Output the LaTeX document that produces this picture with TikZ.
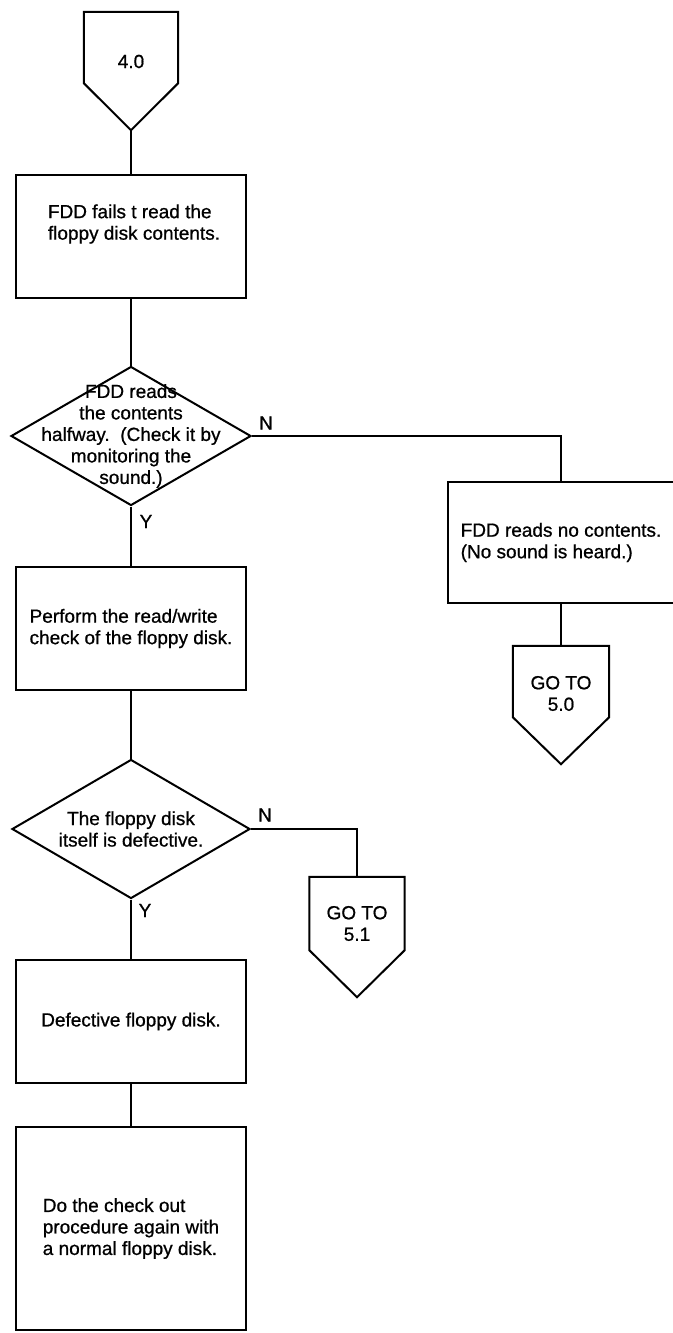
\documentclass[tikz,border=0pt]{standalone}
\usepackage{fontspec}
\setmainfont{Liberation Sans}[FakeBold=0.8]
\usetikzlibrary{calc, shapes.geometric}

\tikzset{
  box/.style={draw, rectangle, line width=2pt, minimum width=230pt, minimum height=123pt, align=left, inner sep=0pt},
  decision/.style={draw, diamond, line width=2pt, minimum width=240pt, minimum height=139pt, inner sep=0pt},
  dtext/.style={align=center, inner sep=0pt},
  offpage/.style={rectangle, minimum width=95pt, minimum height=71pt, inner sep=0pt},
  yn/.style={inner sep=0pt},
  conn/.style={line width=2pt}
}

\begin{document}
\begin{tikzpicture}[x=1pt, y=-1pt, font=\fontsize{19}{21.5}\selectfont]
\useasboundingbox (0, 0) rectangle (672, 1333);
\coordinate (S) at (131, 47.5);
\coordinate (B1) at (131, 236);
\coordinate (D1) at (131, 436);
\coordinate (B2) at (131, 628.5);
\coordinate (D2) at (131, 829);
\coordinate (B3) at (131, 1021.5);
\coordinate (B4) at (131, 1228.5);
\coordinate (BR) at (561, 542.5);
\coordinate (G0) at (561, 681.5);
\coordinate (G1) at (357, 913.5);
\node at (S) [name=start, offpage, minimum width=94pt] {};
\node at ($(S)+(0, 14)$) [name=startt, dtext] {4.0};
\coordinate (starttip) at ($(start.south)+(0, 47)$);
\node at (B1) [name=fails, box] {};
\node at ($(B1)+(3, -12)$) [name=failst, dtext, align=left] {FDD fails t read the\\floppy disk contents.};
\node at (D1) [name=half, decision] {};
\node at (D1) [name=halft, dtext] {FDD reads\\the contents\\halfway.\ \ (Check it by\\monitoring the\\sound.)};
\node at (BR) [name=none, box, minimum width=226pt, minimum height=121pt] {FDD reads no contents.\\(No sound is heard.)};
\node at (G0) [name=goto0, offpage, minimum width=96pt] {};
\node at ($(G0)+(0, 12)$) [name=goto0t, dtext] {GO TO\\5.0};
\node at (B2) [name=check, box] {Perform the read/write\\check of the floppy disk.};
\node at (D2) [name=defq, decision, minimum width=238pt] {};
\node at (D2) [name=defqt, dtext] {The floppy disk\\itself is defective.};
\node at (G1) [name=goto1, offpage, minimum height=73pt] {};
\node at ($(G1)+(0, 10)$) [name=goto1t, dtext] {GO TO\\5.1};
\node at (B3) [name=bad, box] {Defective floppy disk.};
\node at (B4) [name=again, box, minimum height=203pt] {Do the check out\\procedure again with\\a normal floppy disk.};
\node at ($(half.east)+(14, -13)$) [name=n1, yn] {N};
\node at ($(half.south)+(15, 15)$) [name=y1, yn] {Y};
\node at ($(defq.east)+(14, -14)$) [name=n2, yn] {N};
\node at ($(defq.south)+(14, 11)$) [name=y2, yn] {Y};
\foreach \p in {start, goto0, goto1}
  \draw [conn, line join=miter] (\p.south west) -- (\p.north west) -- (\p.north east) -- (\p.south east) -- ($(\p.south)+(0, 47)$) -- cycle;
\draw [conn] (starttip) -- (fails) -- (half) -- (check) -- (defq) -- (bad) -- (again);
\draw [conn] (half.east) -| (none.north);
\draw [conn] (none) -- (goto0);
\draw [conn] (defq.east) -| (goto1.north);
\end{tikzpicture}
\end{document}
